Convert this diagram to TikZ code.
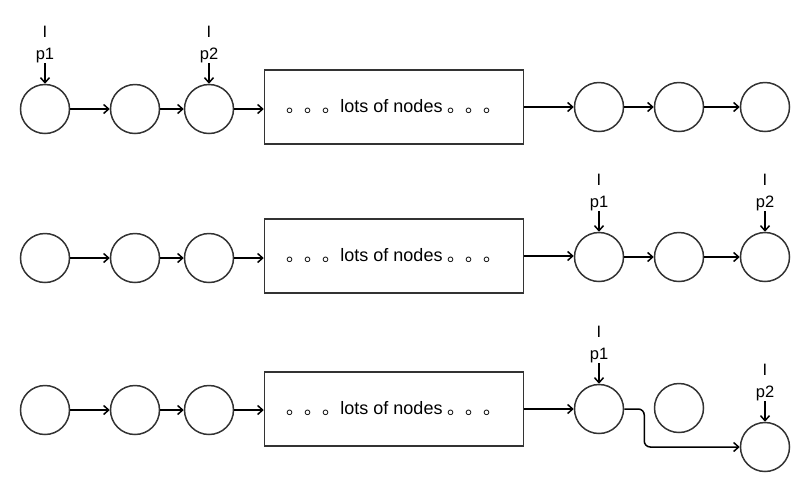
\documentclass[tikz,border=0pt]{standalone}
\usepackage{fontspec}
\setmainfont{Liberation Sans}
\newfontfamily\cjk{Noto Sans CJK SC}
\usetikzlibrary{arrows.meta,calc}
\newcommand\ptrlab[3]{%
  \node[lbl] (#1I) at ($(#2.north)+(0,-46)$) {I};
  \node[lbl] (#1p) at ($(#2.north)+(0,-24)$) {#3};
  \draw[arr] (#1p.south) -- (#2.north);}
\newcommand\boxtext{{\cjk 。。。}lots of nodes {\cjk 。。。}}
\begin{document}
\begin{tikzpicture}[x=1pt,y=-1pt,
  nd/.style={circle,draw=black!80,line width=1.5pt,minimum size=49pt,inner sep=0pt},
  bx/.style={rectangle,draw=black!80,line width=1.5pt,minimum width=259pt,minimum height=74pt,inner sep=0pt,font=\fontsize{18}{20}\selectfont},
  arr/.style={line width=1.5pt,-{Straight Barb[length=5pt,width=9pt]}},
  lbl/.style={inner sep=0pt,anchor=base,font=\fontsize{16.5}{18}\selectfont}]
\useasboundingbox (0,0) rectangle (810,491);
% row 1
\node[nd] (a1) at (45,109) {};
\node[nd] (a2) at (135,109) {};
\node[nd] (a3) at (209,109) {};
\node[bx] (ab) at (394,107) {\boxtext};
\node[nd] (a4) at (599,107) {};
\node[nd] (a5) at (679,107) {};
\node[nd] (a6) at (765,107) {};
\draw[arr] (a1) -- (a2);
\draw[arr] (a2) -- (a3);
\draw[arr] (a3.east) -- (a3.east -| ab.west);
\draw[arr] (ab.east) -- (ab.east -| a4.west);
\draw[arr] (a4) -- (a5);
\draw[arr] (a5) -- (a6);
\ptrlab{a1l}{a1}{p1}
\ptrlab{a3l}{a3}{p2}
% row 2
\node[nd] (b1) at (45,258) {};
\node[nd] (b2) at (135,258) {};
\node[nd] (b3) at (209,258) {};
\node[bx] (bb) at (394,256) {\boxtext};
\node[nd] (b4) at (599,257) {};
\node[nd] (b5) at (679,257) {};
\node[nd] (b6) at (765,257) {};
\draw[arr] (b1) -- (b2);
\draw[arr] (b2) -- (b3);
\draw[arr] (b3.east) -- (b3.east -| bb.west);
\draw[arr] (bb.east) -- (bb.east -| b4.west);
\draw[arr] (b4) -- (b5);
\draw[arr] (b5) -- (b6);
\ptrlab{b4l}{b4}{p1}
\ptrlab{b6l}{b6}{p2}
% row 3
\node[nd] (c1) at (45,410) {};
\node[nd] (c2) at (135,410) {};
\node[nd] (c3) at (209,410) {};
\node[bx] (cb) at (394,409) {\boxtext};
\node[nd] (c4) at (599,409) {};
\node[nd] (c5) at (679,408) {};
\node[nd] (c6) at (765,447) {};
\draw[arr] (c1) -- (c2);
\draw[arr] (c2) -- (c3);
\draw[arr] (c3.east) -- (c3.east -| cb.west);
\draw[arr] (cb.east) -- (cb.east -| c4.west);
\draw[arr,rounded corners=6pt] (c4.east) -- ++(20,0) |- (c6.west);
\ptrlab{c4l}{c4}{p1}
\ptrlab{c6l}{c6}{p2}
\end{tikzpicture}
\end{document}
